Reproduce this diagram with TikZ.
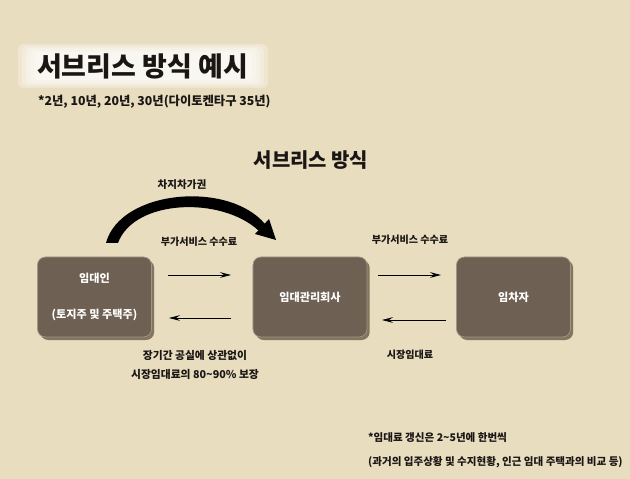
\documentclass[tikz,border=0pt]{standalone}
\usepackage{fontspec}
\newfontfamily\kr{Noto Sans CJK KR}
\usetikzlibrary{arrows.meta,shadows}
\definecolor{paper}{RGB}{233,221,192}
\definecolor{boxbrown}{RGB}{110,96,82}
\definecolor{boxedge}{RGB}{165,150,132}
\definecolor{ink}{RGB}{25,22,20}

\begin{document}
\begin{tikzpicture}[x=0.03cm,y=-0.03cm,
  party/.style={draw=boxedge,line width=0.6pt,fill=boxbrown,rounded corners=0.24cm,
    minimum width=3.42cm,minimum height=2.4cm,text=white,align=center,
    font=\kr\bfseries\fontsize{9.5}{11}\selectfont,
    drop shadow={shadow xshift=0.08cm,shadow yshift=-0.09cm,opacity=0.55,fill=black!75!brown}},
  lbl/.style={text=ink,font=\kr\bfseries\fontsize{8.6}{10}\selectfont},
  flow/.style={line width=0.7pt,-{Stealth[length=0.33cm,width=0.17cm,inset=0.12cm]}}]

\fill[paper] (0,0) rectangle (630,479);
\useasboundingbox (0,0) rectangle (630,479);

% title band
\foreach \i in {0,...,4}
  \fill[white,opacity=0.28,rounded corners=0.15cm] (18+4*\i,44+2*\i) rectangle (268-4*\i,88-2*\i);
\node[anchor=west,text=ink,font=\kr\bfseries\fontsize{23}{27}\selectfont] (title) at (33,66) {서브리스 방식 예시};
\node[anchor=west,text=ink,font=\kr\bfseries\fontsize{10.5}{12}\selectfont] (years) at (34,102) {*2년, 10년, 20년, 30년(다이토켄타구 35년)};

\node[text=ink,font=\kr\bfseries\fontsize{17}{20}\selectfont] (sub) at (311,160) {서브리스 방식};

% the three parties
\node[party] (lessor) at (94.5,297) {임대인\\[19pt](토지주 및 주택주)};
\node[party] (manager) at (310,297) {임대관리회사};
\node[party] (tenant) at (513.5,297) {임차자};

% brush arrow over the first box
\fill[black] (106,243) .. controls (120,190) and (228,180) .. (265,224)
  -- (259,231) .. controls (222,196) and (134,199) .. (118,243) -- cycle;
\fill[black] (255,234) -- (276,240) -- (269,219) -- cycle;
\node[lbl,font=\kr\bfseries\fontsize{9}{11}\selectfont] (lease) at (182,185) {차지차가권};

% flows
\coordinate (f1s) at (168,275); \coordinate (f1e) at (231,275);
\coordinate (b1s) at (231,318); \coordinate (b1e) at (169,318);
\coordinate (f2s) at (378,275); \coordinate (f2e) at (441,275);
\coordinate (b2s) at (446,320); \coordinate (b2e) at (382,320);
\draw[flow] (f1s) -- (f1e);
\draw[flow] (b1s) -- (b1e);
\draw[flow] (f2s) -- (f2e);
\draw[flow] (b2s) -- (b2e);

\node[lbl] (fee1) at (199,242) {부가서비스 수수료};
\node[lbl] (fee2) at (410,240) {부가서비스 수수료};
\node[lbl,align=center,font=\kr\bfseries\fontsize{9.2}{17}\selectfont] (guar) at (195,365) {장기간 공실에 상관없이\\시장임대료의 80\textasciitilde90\% 보장};
\node[lbl] (rent) at (410,355) {시장임대료};

% note
\node[lbl,anchor=west,align=left,font=\kr\bfseries\fontsize{9}{20.5}\selectfont] (note) at (364,450)
  {*임대료 갱신은 2\textasciitilde5년에 한번씩\\(과거의 입주상황 및 수지현황, 인근 임대 주택과의 비교 등)};
\end{tikzpicture}
\end{document}
